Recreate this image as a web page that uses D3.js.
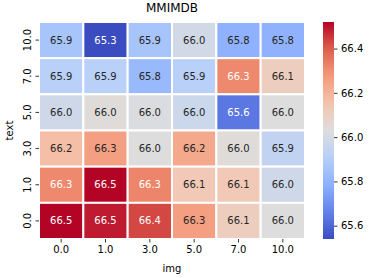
<!DOCTYPE html>
<html>
<head>
<meta charset="utf-8">
<script src="https://cdn.jsdelivr.net/npm/d3@7"></script>
<style>
  body { margin: 0; background: #fff; }
  svg { font-family: "DejaVu Sans", sans-serif; }
</style>
</head>
<body>
<svg id="chart" width="370" height="278"></svg>
<script>
const imgLevels = ["0.0", "1.0", "3.0", "5.0", "7.0", "10.0"];
const textLevels = ["10.0", "7.0", "5.0", "3.0", "1.0", "0.0"];
// rows follow textLevels (top to bottom), columns follow imgLevels
const scores = [
  [65.86, 65.30, 65.86, 65.99, 65.79, 65.79],
  [65.91, 65.91, 65.82, 65.91, 66.31, 66.11],
  [65.98, 66.04, 66.02, 65.97, 65.64, 66.03],
  [66.17, 66.26, 66.03, 66.23, 66.04, 65.94],
  [66.31, 66.52, 66.32, 66.13, 66.13, 65.98],
  [66.52, 66.49, 66.43, 66.26, 66.11, 66.03]
];
const colorTicks = [65.6, 65.8, 66.0, 66.2, 66.4];
const colorRange = [65.54, 66.52];

// matplotlib "coolwarm"
const coolwarm = d3.piecewise(d3.interpolateRgb, [
  "#3b4cc0", "#6282ea", "#8db0fe", "#b8d0f9", "#dddddd",
  "#f5c4ad", "#f49a7b", "#de604d", "#b40426"
]);

const svg = d3.select("#chart");
const mLeft = 39, mRight = 305, mTop = 22, mBottom = 239;

const x = d3.scaleBand().domain(imgLevels).range([mLeft, mRight]);
const y = d3.scaleBand().domain(textLevels).range([mTop, mBottom]);
const color = d3.scaleSequential(coolwarm).domain(colorRange).clamp(true);

const cells = [];
scores.forEach((row, i) => row.forEach((v, j) => {
  cells.push({ text: textLevels[i], img: imgLevels[j], value: v });
}));

function luminance(c) {
  const rgb = d3.rgb(c);
  const f = v => { v /= 255; return v <= 0.03928 ? v / 12.92 : Math.pow((v + 0.055) / 1.055, 2.4); };
  return 0.2126 * f(rgb.r) + 0.7152 * f(rgb.g) + 0.0722 * f(rgb.b);
}

svg.append("g")
  .selectAll("rect")
  .data(cells)
  .join("rect")
  .attr("x", d => x(d.img))
  .attr("y", d => y(d.text))
  .attr("width", x.bandwidth())
  .attr("height", y.bandwidth())
  .attr("fill", d => color(d.value))
  .attr("stroke", "#fff")
  .attr("stroke-width", 2);

svg.append("g")
  .selectAll("text")
  .data(cells)
  .join("text")
  .attr("x", d => x(d.img) + x.bandwidth() / 2)
  .attr("y", d => y(d.text) + y.bandwidth() / 2)
  .attr("text-anchor", "middle")
  .attr("dy", "0.35em")
  .attr("font-size", 10)
  .attr("fill", d => luminance(color(d.value)) > 0.408 ? "#262626" : "#fff")
  .text(d => d.value.toFixed(1));

// axes
const xAxis = svg.append("g")
  .attr("transform", `translate(0,${mBottom})`)
  .call(d3.axisBottom(x).tickSize(3.5).tickPadding(3.5));
const yAxis = svg.append("g")
  .attr("transform", `translate(${mLeft},0)`)
  .call(d3.axisLeft(y).tickSize(3.5).tickPadding(3.5));
[xAxis, yAxis].forEach(g => {
  g.select(".domain").remove();
  g.selectAll("line").attr("stroke", "#000").attr("stroke-width", 0.8);
  g.selectAll("text").attr("font-size", 10).attr("fill", "#000")
    .attr("font-family", "DejaVu Sans");
});
yAxis.selectAll("text")
  .attr("x", 0)
  .attr("dy", 0)
  .attr("text-anchor", "middle")
  .attr("transform", "translate(-8,0) rotate(-90)");

svg.append("text")
  .attr("x", (mLeft + mRight) / 2).attr("y", 12)
  .attr("text-anchor", "middle").attr("font-size", 12)
  .text("MMIMDB");
svg.append("text")
  .attr("x", (mLeft + mRight) / 2).attr("y", 272)
  .attr("text-anchor", "middle").attr("font-size", 10)
  .text("img");
svg.append("text")
  .attr("transform", `translate(13,${(mTop + mBottom) / 2}) rotate(-90)`)
  .attr("text-anchor", "middle").attr("font-size", 10)
  .text("text");

// colorbar
const cbX = 323, cbW = 11;
const cbScale = d3.scaleLinear().domain(colorRange).range([mBottom, mTop]);
const defs = svg.append("defs");
const grad = defs.append("linearGradient")
  .attr("id", "cb").attr("x1", 0).attr("y1", 1).attr("x2", 0).attr("y2", 0);
d3.range(0, 1.0001, 0.05).forEach(t => {
  grad.append("stop").attr("offset", t).attr("stop-color", coolwarm(t));
});
svg.append("rect")
  .attr("x", cbX).attr("y", mTop)
  .attr("width", cbW).attr("height", mBottom - mTop)
  .attr("fill", "url(#cb)");
const cbAxis = svg.append("g")
  .attr("transform", `translate(${cbX + cbW},0)`)
  .call(d3.axisRight(cbScale).tickValues(colorTicks).tickFormat(d3.format(".1f"))
    .tickSize(3.5).tickPadding(3.5));
cbAxis.select(".domain").remove();
cbAxis.selectAll("line").attr("stroke", "#000").attr("stroke-width", 0.8);
cbAxis.selectAll("text").attr("font-size", 10).attr("fill", "#000")
  .attr("font-family", "DejaVu Sans");
</script>
</body>
</html>
